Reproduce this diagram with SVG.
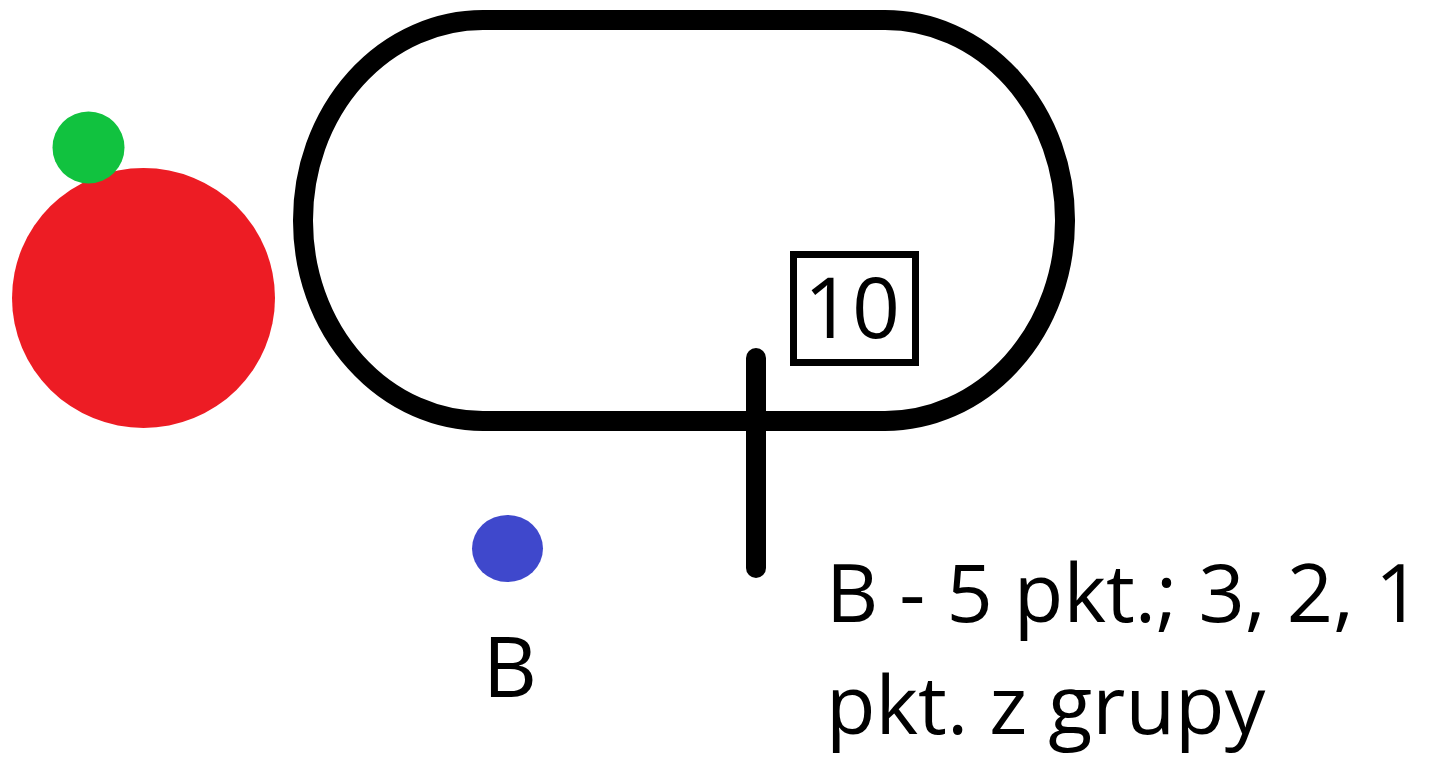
<svg xmlns="http://www.w3.org/2000/svg" width="1435" height="758" viewBox="0 0 1435 758">
<style>
.t{font-family:"Open Sans","Noto Sans",sans-serif;fill:#000;font-size:84px}
.d{font-family:"Open Sans","Noto Sans",sans-serif;fill:#000;font-size:81px}
.stroke{fill:none;stroke:#000}
</style>
<rect x="0" y="0" width="1435" height="758" fill="#fff"/>
<g id="track">
<rect class="stroke" x="303" y="20" width="762" height="401" rx="180" ry="200" stroke-width="20"/>
</g>
<g id="red-circle"><ellipse cx="143.5" cy="298" rx="131.5" ry="130" fill="#ed1c24"/></g>
<g id="green-circle"><circle cx="88.5" cy="147.5" r="36" fill="#11c23f"/></g>
<g id="blue-circle"><ellipse cx="507.5" cy="548.5" rx="35.5" ry="33.5" fill="#3f48cc"/></g>
<g id="label-b"><text class="t" x="510" y="697" text-anchor="middle">B</text></g>
<g id="box-10">
<rect class="stroke" x="793.5" y="254.5" width="122" height="108" stroke-width="7"/>
<text class="t" x="852" y="338" text-anchor="middle">10</text>
</g>
<g id="connectors">
<line x1="756" y1="358" x2="756" y2="568" stroke="#000" stroke-width="20" stroke-linecap="round"/>
</g>
<g id="description">
<text class="d" x="826" y="622">B - 5 pkt.; 3, 2, 1</text>
<text class="d" x="826" y="734">pkt. z grupy</text>
</g>
</svg>
